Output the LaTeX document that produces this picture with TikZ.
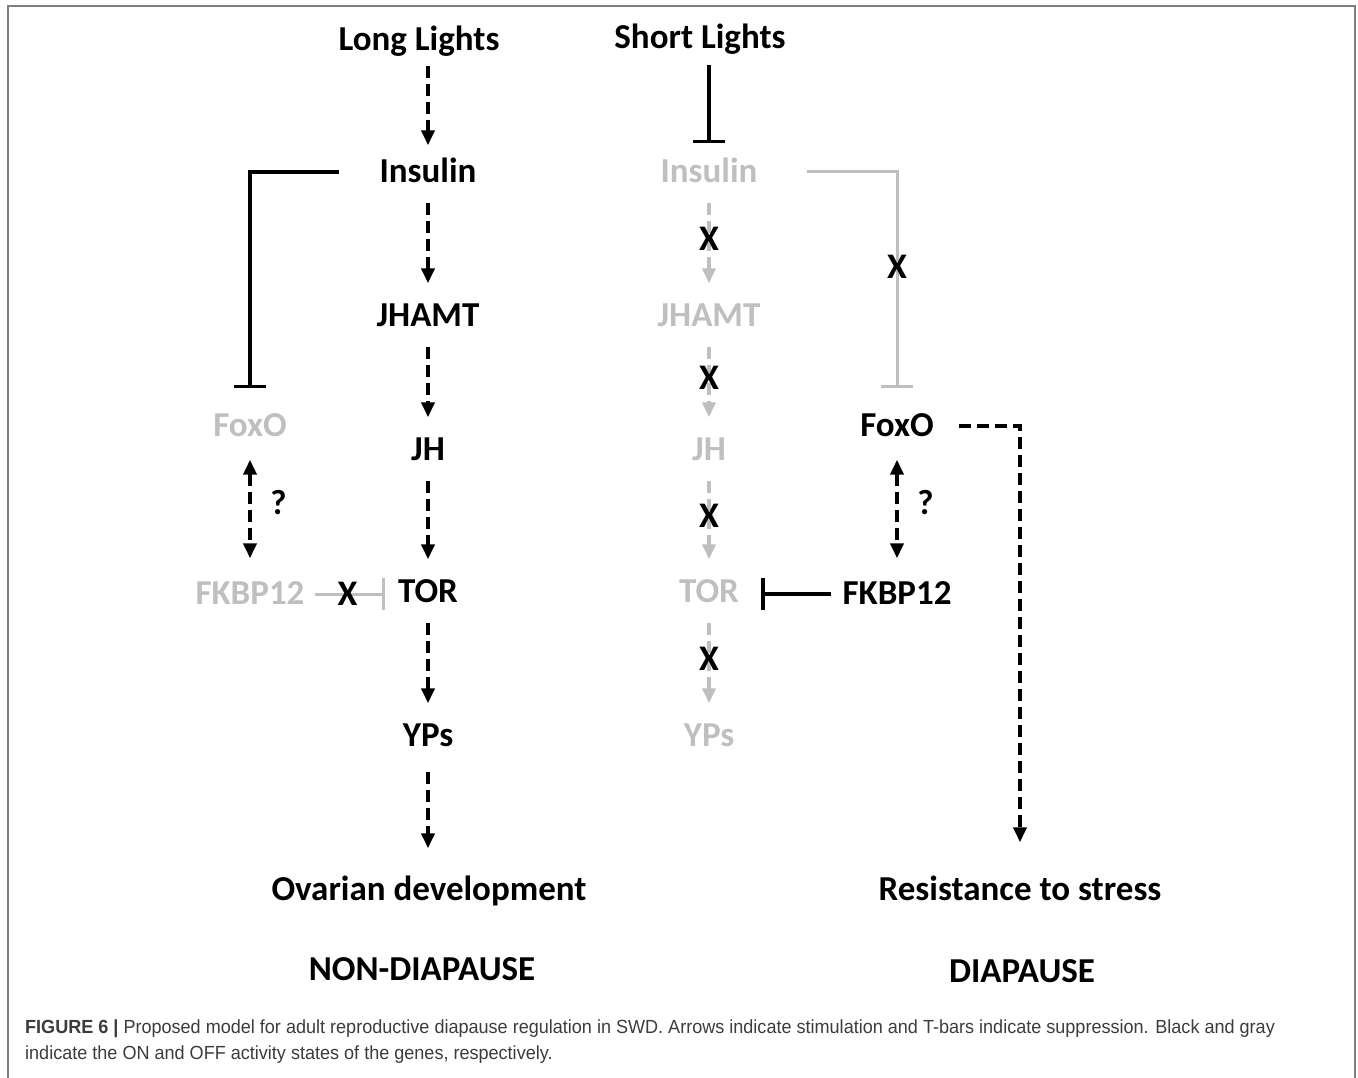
\documentclass[tikz,border=0pt]{standalone}
\usepackage{fontspec}
\setmainfont{Carlito}
\newfontfamily\capfont[FakeStretch=0.95]{Liberation Sans}
\usetikzlibrary{arrows.meta}
\definecolor{offgray}{HTML}{BFBFBF}
\definecolor{captext}{HTML}{3C3C3C}
\definecolor{framegray}{HTML}{7F7F7F}

\begin{document}
\begin{tikzpicture}[x=1pt,y=-1pt,
    gene/.style={font=\fontsize{35}{40}\selectfont\bfseries, inner sep=0pt, text height=26pt, text depth=5pt},
    offgene/.style={gene, text=offgray},
    stim/.style={line width=4.5pt, dash pattern=on 12pt off 6pt, -{Triangle[length=15pt,width=13pt]}, shorten <=15pt, shorten >=17pt},
    bothstim/.style={stim, {Triangle[length=15pt,width=13pt]}-{Triangle[length=15pt,width=13pt]}},
    offstim/.style={stim, draw=offgray, line width=4pt},
    supp/.style={line width=3.5pt, -{Bar[width=32pt]}},
    offsupp/.style={supp, draw=offgray, line width=3pt},
    cut/.style={font=\fontsize{36}{40}\selectfont\bfseries, inner sep=1pt},
    capline/.style={anchor=base west, inner sep=0pt, text=captext, font=\capfont\fontsize{19}{26}\selectfont}]
                \useasboundingbox (0,0) rectangle (1358,1078);
                \draw[framegray, line width=1.5pt] (8,1080) -- (8,6) -- (1355,6) -- (1355,1080);
                % genes
                \node[gene] (longL) at (419,40) {Long Lights};
                \node[gene] (shortL) at (700,38) {Short Lights};
                \node[gene] (insL) at (428,172) {Insulin};
                \node[offgene] (insR) at (709,172) {Insulin};
                \node[gene] (jhamtL) at (428,316) {JHAMT};
                \node[offgene] (jhamtR) at (709,316) {JHAMT};
                \node[gene] (jhL) at (428,450) {JH};
                \node[offgene] (jhR) at (709,450) {JH};
                \node[gene] (torL) at (428,592) {TOR};
                \node[offgene] (torR) at (709,592) {TOR};
                \node[gene] (ypsL) at (428,736) {YPs};
                \node[offgene] (ypsR) at (709,736) {YPs};
                \node[offgene] (foxL) at (250,426) {FoxO};
                \node[gene] (foxR) at (897,426) {FoxO};
                \node[offgene] (fkL) at (250,594) {FKBP12};
                \node[gene] (fkR) at (897,594) {FKBP12};
                \node[gene] (ovary) at (429,890) {Ovarian development};
                \node[gene] (stress) at (1020,890) {Resistance to stress};
                \node[gene] (nondia) at (422,970) {NON-DIAPAUSE};
                \node[gene] (dia) at (1022,972) {DIAPAUSE};
                % long days
                \draw[stim, shorten <=10pt, shorten >=11pt] (insL |- longL.south) -- (insL.north);
                \foreach \A/\B in {insL/jhamtL, jhamtL/jhL, jhL/torL, torL/ypsL}
                {\draw[stim] (\A.south) -- (\B.north);}
                \draw[stim, shorten <=20pt, shorten >=26pt] (ypsL.south) -- (ypsL |- ovary.north);
                \draw[supp, shorten <=40pt, shorten >=22pt] (insL.west) -| (foxL.north);
                \draw[bothstim, shorten <=18pt, shorten >=20pt] (foxL.south) -- (fkL.north) node[midway, right=18pt, yshift=6pt, gene]{?};
                \draw[offsupp, shorten <=10pt, shorten >=13pt] (fkL.east) -- (fkL.east -| torL.west) node[cut, pos=0.46]{X};
                % short days
                \draw[supp, shorten <=11pt, shorten >=13pt] (insR |- shortL.south) -- (insR.north);
                \foreach \A/\B in {insR/jhamtR, jhamtR/jhR, jhR/torR, torR/ypsR}
                {\draw[offstim] (\A.south) -- (\B.north) node[cut, pos=0.45]{X};}
                \draw[offsupp, shorten <=49pt, shorten >=22pt] (insR.east) -| (foxR.north) node[cut, pos=0.70]{X};
                \draw[bothstim, shorten <=18pt, shorten >=20pt] (foxR.south) -- (fkR.north) node[midway, right=18pt, yshift=6pt, gene]{?};
                \draw[supp, shorten <=11pt, shorten >=22pt] (fkR.west) -- (fkR.west -| torR.east);
                \draw[stim, shorten <=25pt, shorten >=32pt] (foxR.east) -| (stress.north);
                % caption
                \node[capline] (cap1) at (25,1033) {\textbf{FIGURE 6 |} Proposed model for adult reproductive diapause regulation in SWD. Arrows indicate stimulation and T-bars indicate suppression. Black and gray};
                \node[capline] (cap2) at (25,1059) {indicate the ON and OFF activity states of the genes, respectively.};
            \end{tikzpicture}
\end{document}
